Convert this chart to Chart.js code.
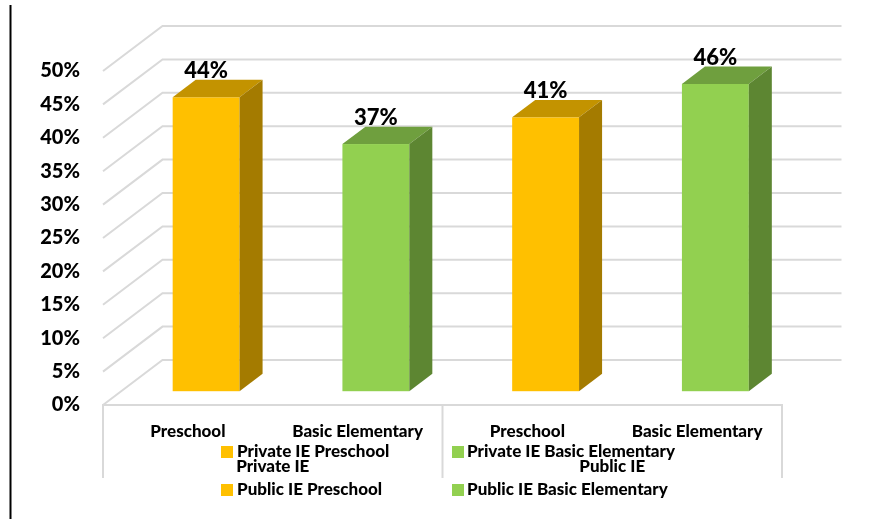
<!DOCTYPE html>
<html>
<head>
<meta charset="utf-8">
<script src="https://cdn.jsdelivr.net/npm/chart.js@4/dist/chart.umd.min.js"></script>
<style>
  html, body { margin: 0; padding: 0; background: #ffffff; }
  canvas { display: block; }
</style>
</head>
<body>
<canvas id="chart" width="869" height="519"></canvas>
<script>
// Share of institutions by level, grouped by sector
const categories = ['Preschool', 'Basic Elementary', 'Preschool', 'Basic Elementary'];
const groups = ['Private IE', 'Public IE'];
const shares = [44, 37, 41, 46];
const legendLabels = ['Private IE Preschool', 'Private IE Basic Elementary', 'Public IE Preschool', 'Public IE Basic Elementary'];
const yTickValues = [0, 5, 10, 15, 20, 25, 30, 35, 40, 45, 50];

// Face colours of the 3-D columns
const frontColors = ['#FFC000', '#92D050', '#FFC000', '#92D050'];
const topColors   = ['#C39300', '#6F9F3E', '#C39300', '#6F9F3E'];
const sideColors  = ['#A47B00', '#5D8632', '#A47B00', '#5D8632'];

const FONT = 'Lato, "Open Sans", sans-serif';
const WEIGHT = '900';
const DEPTH = { x: 59.5, y: -45 };      // floor depth projection
const BAR_DEPTH = 0.387;                // column depth as share of floor depth
const FRONT_GAP = (1 - BAR_DEPTH) / 2;  // columns sit mid-floor
const GRID = '#D9D9D9';

const box3d = {
  id: 'box3d',
  beforeDatasetsDraw(chart) {
    const { ctx, chartArea: a, scales: { y } } = chart;
    ctx.save();
    ctx.strokeStyle = GRID;
    ctx.lineWidth = 2;
    yTickValues.forEach(v => {
      const yf = y.getPixelForValue(v);
      const yb = yf + DEPTH.y;
      ctx.beginPath();
      ctx.moveTo(a.left, yf);
      ctx.lineTo(a.left + DEPTH.x, yb);
      ctx.lineTo(a.right + DEPTH.x, yb);
      ctx.stroke();
    });
    ctx.restore();
  },
  beforeDatasetDraw() {
    return false;
  },
  afterDatasetsDraw(chart) {
    const { ctx } = chart;
    const meta = chart.getDatasetMeta(0);
    const ox = DEPTH.x * FRONT_GAP, oy = DEPTH.y * FRONT_GAP;
    const bx = DEPTH.x * BAR_DEPTH, by = DEPTH.y * BAR_DEPTH;
    ctx.save();
    meta.data.forEach((el, i) => {
      const L = el.x - el.width / 2 + ox;
      const R = el.x + el.width / 2 + ox;
      const T = el.y + oy;
      const B = el.base + oy;
      // front
      ctx.fillStyle = frontColors[i];
      ctx.fillRect(L, T, R - L, B - T);
      // top
      ctx.fillStyle = topColors[i];
      ctx.beginPath();
      ctx.moveTo(L, T); ctx.lineTo(R, T); ctx.lineTo(R + bx, T + by); ctx.lineTo(L + bx, T + by);
      ctx.closePath(); ctx.fill();
      // side
      ctx.fillStyle = sideColors[i];
      ctx.beginPath();
      ctx.moveTo(R, T); ctx.lineTo(R + bx, T + by); ctx.lineTo(R + bx, B + by); ctx.lineTo(R, B);
      ctx.closePath(); ctx.fill();
      // value label
      ctx.fillStyle = '#000';
      ctx.font = WEIGHT + ' 22px ' + FONT;
      ctx.textAlign = 'center';
      ctx.textBaseline = 'middle';
      ctx.fillText(shares[i] + '%', (L + R) / 2, T + by - 9);
    });
    ctx.restore();
  },
  afterDraw(chart) {
    const { ctx, chartArea: a, scales: { x } } = chart;
    ctx.save();
    // category axis box with group dividers
    const mid = (x.getPixelForTick(1) + x.getPixelForTick(2)) / 2;
    const lower = a.bottom + 73;
    ctx.strokeStyle = GRID;
    ctx.lineWidth = 2;
    ctx.beginPath();
    ctx.moveTo(a.left, lower); ctx.lineTo(a.left, a.bottom); ctx.lineTo(a.right, a.bottom); ctx.lineTo(a.right, lower);
    ctx.moveTo(mid, a.bottom); ctx.lineTo(mid, lower);
    ctx.stroke();

    // group labels
    ctx.fillStyle = '#000';
    ctx.font = WEIGHT + ' 17px ' + FONT;
    ctx.textAlign = 'center';
    ctx.textBaseline = 'middle';
    groups.forEach((g, gi) => {
      const cx = (x.getPixelForTick(gi * 2) + x.getPixelForTick(gi * 2 + 1)) / 2;
      ctx.fillText(g, cx, a.bottom + 62);
    });

    // legend
    const cols = [221, 452];
    const rows = [452, 490];
    ctx.textAlign = 'left';
    legendLabels.forEach((lab, i) => {
      const cx = cols[i % 2], cy = rows[Math.floor(i / 2)];
      ctx.fillStyle = frontColors[i];
      ctx.fillRect(cx, cy - 6, 12, 12);
      ctx.fillStyle = '#000';
      ctx.fillText(lab, cx + 15 + (i % 2 === 0 ? 1 : 0), cy);
    });

    // left rule
    ctx.fillStyle = '#000';
    ctx.fillRect(9.5, 5, 2, 514);
    ctx.restore();
  }
};

new Chart(document.getElementById('chart'), {
  type: 'bar',
  data: {
    labels: categories,
    datasets: [{
      data: shares,
      backgroundColor: frontColors,
      categoryPercentage: 1,
      barPercentage: 0.394
    }]
  },
  options: {
    responsive: false,
    animation: false,
    devicePixelRatio: 1,
    layout: { padding: { top: 71, right: 87, left: 0, bottom: 0 } },
    plugins: { legend: { display: false }, tooltip: { enabled: false } },
    scales: {
      x: {
        grid: { display: false, drawTicks: false },
        border: { display: false },
        ticks: {
          color: '#000',
          font: { family: FONT, size: 17, weight: WEIGHT },
          padding: 16,
          maxRotation: 0,
          autoSkip: false
        },
        afterFit(s) { s.height = 114; }
      },
      y: {
        min: 0,
        max: 50,
        grid: { display: false, drawTicks: false },
        border: { display: false },
        afterBuildTicks(s) { s.ticks = yTickValues.map(v => ({ value: v })); },
        ticks: {
          color: '#000',
          font: { family: FONT, size: 20, weight: WEIGHT },
          padding: 23,
          callback: v => v + '%'
        },
        afterFit(s) { s.width = 103; }
      }
    }
  },
  plugins: [box3d]
});
</script>
</body>
</html>
